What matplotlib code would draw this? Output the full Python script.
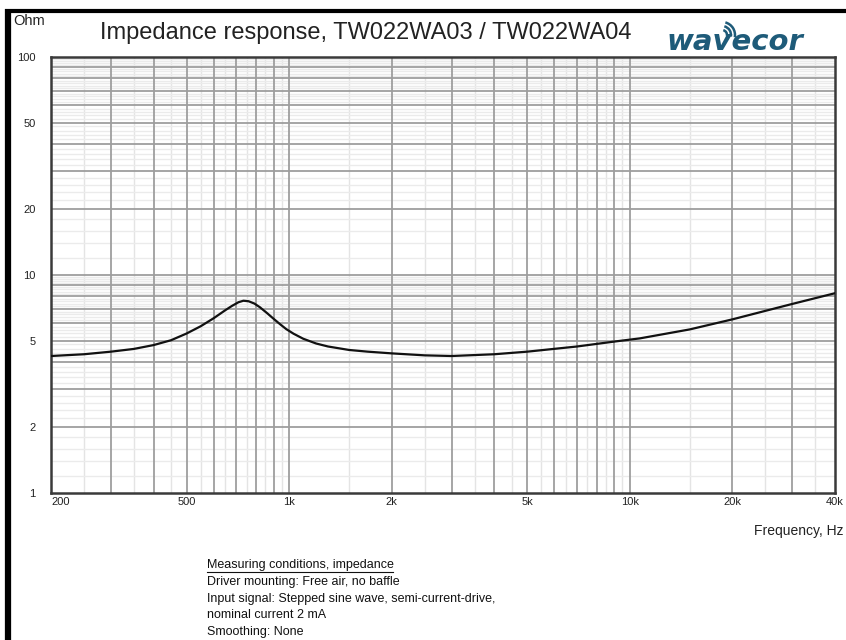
import numpy as np
import matplotlib
matplotlib.use('Agg')
import matplotlib.pyplot as plt
from matplotlib.patches import Arc
from matplotlib.ticker import FixedLocator, NullLocator

# impedance curve
freq = [200, 250, 300, 350, 400, 450, 500, 550, 600, 650, 680, 710, 734, 760,
        790, 820, 860, 900, 940, 980, 1030, 1100, 1200, 1300, 1500, 1700,
        2000, 2500, 3000, 4000, 5000, 7000, 9000, 10700, 15000, 20000,
        30000, 40000]
imp = [4.25, 4.33, 4.45, 4.58, 4.77, 5.02, 5.39, 5.82, 6.33, 6.90, 7.22, 7.50,
       7.62, 7.58, 7.40, 7.12, 6.70, 6.30, 5.95, 5.65, 5.38, 5.10, 4.85, 4.70,
       4.53, 4.45, 4.37, 4.28, 4.25, 4.33, 4.45, 4.70, 4.95, 5.12, 5.63, 6.26,
       7.37, 8.25]

x_ticks = [200, 500, 1000, 2000, 5000, 10000, 20000, 40000]
x_labels = ['200', '500', '1k', '2k', '5k', '10k', '20k', '40k']
y_ticks = [1, 2, 5, 10, 20, 50, 100]
y_labels = ['1', '2', '5', '10', '20', '50', '100']

notes = ['Driver mounting: Free air, no baffle',
         'Input signal: Stepped sine wave, semi-current-drive,',
         'nominal current 2 mA',
         'Smoothing: None']

plt.rcParams['font.family'] = ['Liberation Sans', 'DejaVu Sans']

W, H = 846, 640
fig = plt.figure(figsize=(W / 100, H / 100), dpi=100)

# overlay in pixel coords for frame, texts and logo
deco = fig.add_axes([0, 0, 1, 1])
deco.set_xlim(0, W)
deco.set_ylim(H, 0)
deco.axis('off')

ax = fig.add_axes([51 / W, 1 - 493 / H, (835 - 51) / W, (493 - 57) / H])
ax.set_xscale('log')
ax.set_yscale('log')
ax.set_xlim(200, 40000)
ax.set_ylim(1, 100)

# grid: dark at 1..9 x decade, light at finer steps
dark_x = [m * 10 ** d for d in range(2, 5) for m in range(1, 10)]
light_x = [(m + 0.5) * 10 ** d for d in range(2, 5) for m in range(1, 10)]
dark_y = [m * 10 ** d for d in range(0, 2) for m in range(1, 10)]
light_y = [(m + k / 5) * 10 ** d for d in range(0, 2) for m in range(1, 10)
           for k in range(1, 5)]

for v in light_x:
    if 200 < v < 40000:
        ax.axvline(v, color='#e4e4e4', lw=1.0, zorder=1)
for v in light_y:
    ax.axhline(v, color='#ebebeb', lw=1.0, zorder=1)
for v in dark_x:
    if 200 < v < 40000:
        ax.axvline(v, color='#9e9e9e', lw=1.3, zorder=2)
for v in dark_y:
    if 1 < v < 100:
        ax.axhline(v, color='#9e9e9e', lw=1.3, zorder=2)

ax.plot(freq, imp, color='#111111', lw=1.6, zorder=5,
        solid_capstyle='round', solid_joinstyle='round')

ax.xaxis.set_major_locator(FixedLocator(x_ticks))
ax.xaxis.set_minor_locator(NullLocator())
ax.yaxis.set_major_locator(FixedLocator(y_ticks))
ax.yaxis.set_minor_locator(NullLocator())
ax.set_xticklabels(x_labels)
ax.set_yticklabels(y_labels)
ax.tick_params(length=0, labelsize=8, colors='#222222')
ax.tick_params(axis='y', pad=11)
ax.tick_params(axis='x', pad=3)
ax.get_xticklabels()[0].set_horizontalalignment('left')
for s in ax.spines.values():
    s.set_color('#3a3a3a')
    s.set_linewidth(1.8)

# black frame on left and top
deco.plot([8, 8], [9, H], color='black', lw=4.5, solid_capstyle='butt')
deco.plot([5, W], [11, 11], color='black', lw=3, solid_capstyle='butt')

deco.text(13, 21, 'Ohm', fontsize=10.5, va='center', ha='left', color='#222222')
deco.text(100, 33, 'Impedance response, TW022WA03 / TW022WA04',
          fontsize=17, va='center', ha='left', color='#222222')

# logo
logo_col = '#1e5b79'
deco.text(735, 42, 'wavecor', fontsize=21, fontweight='bold', style='oblique',
          family='DejaVu Sans', color=logo_col, ha='center', va='center')
for r in [5, 9, 13]:
    deco.add_patch(Arc((722, 35), 2 * r, 2 * r, theta1=-75, theta2=10,
                       color=logo_col, lw=1.8))

deco.text(843, 531, 'Frequency, Hz', fontsize=10, ha='right', va='center',
          color='#222222')

y0 = 565
deco.text(207, y0, 'Measuring conditions, impedance', fontsize=9,
          va='center', ha='left', color='#111111')
deco.plot([207, 393], [y0 + 7, y0 + 7], color='#111111', lw=0.8)
for i, line in enumerate(notes):
    deco.text(207, y0 + 16.8 * (i + 1), line, fontsize=9, va='center',
              ha='left', color='#111111')

fig.savefig('out.png', dpi=100)
